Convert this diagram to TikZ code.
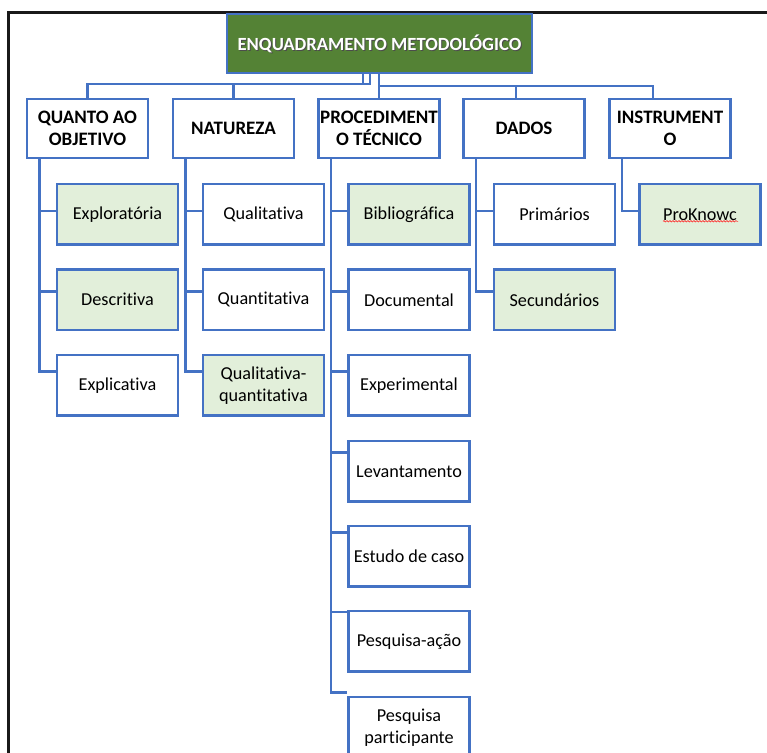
\documentclass[tikz,border=0pt]{standalone}
\usepackage{fontspec}
\setmainfont{Carlito}[Ligatures=NoCommon]
\usetikzlibrary{decorations.pathmorphing}
\definecolor{lineblue}{HTML}{4472C4}
\definecolor{dkgreen}{HTML}{548235}
\definecolor{ltgreen}{HTML}{E2EFDA}
\begin{document}
\begin{tikzpicture}[x=1pt,y=-1pt,
  box/.style={draw=lineblue, line width=2.8pt, rectangle, fill=white,
    minimum width=121pt, minimum height=60.5pt, inner sep=0pt, align=center,
    font=\fontsize{18.2}{22}\selectfont},
  hdr/.style={box, minimum height=59pt, font=\fontsize{19}{22}\selectfont\bfseries},
  sel/.style={fill=ltgreen},
  conn/.style={draw=lineblue, line width=2.9pt},
  frame/.style={draw=black!90, line width=3pt}]
\useasboundingbox (0,0) rectangle (767,752);
\fill[white] (0,0) rectangle (767,752);
% outer frame (cut off at right and bottom)
\coordinate (fb) at (8.5,800);
\coordinate (fc) at (8.5,12.5);
\coordinate (fr) at (800,12.5);
\draw[frame] (fb) -- (fc) -- (fr);

% title
\node[draw=lineblue, line width=1.8pt, fill=dkgreen, minimum width=305pt,
      minimum height=59pt, inner sep=0pt] (top) at (379.5,43.5) {};
\node[text=black!70, font=\fontsize{18.6}{22}\selectfont\bfseries]
  (ttlsh) at ([shift={(1pt,-1pt)}]top.center) {ENQUADRAMENTO METODOLÓGICO};
\node[text=white, font=\fontsize{18.6}{22}\selectfont\bfseries]
  (ttl) at (top.center) {ENQUADRAMENTO METODOLÓGICO};

% headers
\node[hdr] (h1) at (87.5,128.5) {QUANTO AO\\OBJETIVO};
\node[hdr] (h2) at (233.5,128.5) {NATUREZA};
\node[hdr] (h3) at (379,128.5) {PROCEDIMENT\\O TÉCNICO};
\node[hdr] (h4) at (524,128.5) {DADOS};
\node[hdr] (h5) at (670,128.5) {INSTRUMENT\\O};

% children
\node[box,sel] (c11) at (117.5,214.3) {Exploratória};
\node[box,sel] (c12) at (117.5,299.8) {Descritiva};
\node[box]     (c13) at (117.5,385.3) {Explicativa};

\node[box]     (c21) at (263.5,214.3) {Qualitativa};
\node[box]     (c22) at (263.5,299.8) {Quantitativa};
\node[box,sel] (c23) at (263.5,385.3) {Qualitativa-\\quantitativa};

\node[box,sel] (c31) at (409,214.3) {Bibliográfica};
\node[box]     (c32) at (409,299.8) {Documental};
\node[box]     (c33) at (409,385.3) {Experimental};
\node[box]     (c34) at (409,471.3) {Levantamento};
\node[box]     (c35) at (409,556.3) {Estudo de caso};
\node[box]     (c36) at (409,641.3) {Pesquisa-ação};
\node[box]     (c37) at (409,727.3) {Pesquisa\\participante};

\node[box]     (c41) at (554.5,214.3) {Primários};
\node[box,sel] (c42) at (554.5,299.8) {Secundários};

\node[box,sel] (c51) at (700,214.3) {ProKnowc};
\draw[red!85, line width=0.6pt, decorate,
      decoration={snake, amplitude=0.7pt, segment length=3pt}]
  ([shift={(-37pt,-7pt)}]c51.center) -- ([shift={(38pt,-7pt)}]c51.center);

% top-level connectors
\coordinate (jL1) at (363,84);
\coordinate (jL2) at (370,84);
\coordinate (jR) at (379,86);
\draw[conn] (top.south -| jL1) -- (jL1) -| (h1.north);
\draw[conn] (top.south -| jL2) -- (jL2) -| (h2.north);
\draw[conn] (top.south -| jR) -- (h3.north);
\draw[conn] (jR) -| ([xshift=-8pt]h4.north);
\draw[conn] (jR) -| ([xshift=-17pt]h5.north);

% child connectors
\foreach \h/\c/\r in {h1/c11/0, h1/c12/1, h1/c13/2,
                      h2/c21/0, h2/c22/1, h2/c23/2,
                      h3/c31/0, h3/c32/1, h3/c33/2, h3/c34/3, h3/c35/4, h3/c36/5, h3/c37/6,
                      h4/c41/0, h4/c42/1,
                      h5/c51/0}{
  \draw[conn] ([xshift=-48pt]\h.south) |- ([yshift={3.3pt+5.2pt*\r}]\c.west);
}
\end{tikzpicture}
\end{document}
